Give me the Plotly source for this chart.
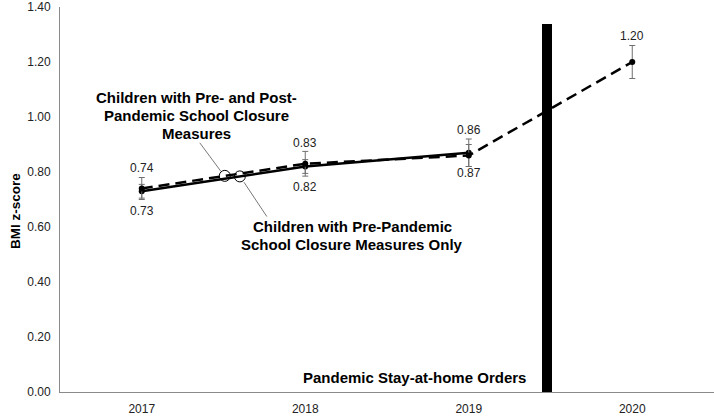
import plotly.graph_objects as go

# data
years = ["2017", "2018", "2019", "2020"]
pre_post = [0.74, 0.83, 0.86, 1.20]          # dashed series
pre_post_err = [0.04, 0.045, 0.04, 0.06]
pre_only = [0.73, 0.82, 0.87]                # solid series
pre_only_err = [0.025, 0.025, 0.05]
y_ticks = [0.0, 0.2, 0.4, 0.6, 0.8, 1.0, 1.2, 1.4]

# value labels: (year index, text, above/below)
value_labels = [
    (0, "0.74", "above"), (0, "0.73", "below"),
    (1, "0.83", "above"), (1, "0.82", "below"),
    (2, "0.86", "above"), (2, "0.87", "below"),
    (3, "1.20", "above"),
]

callout_pre_post = ["Children with Pre- and Post-", "Pandemic School Closure", "Measures"]
callout_pre_only = ["Children with Pre-Pandemic", "School Closure Measures Only"]
order_label = "Pandemic Stay-at-home Orders"

order_x = 2.48      # between 2019 and 2020
order_height = 1.34

FONT = "Liberation Sans, Arial, sans-serif"
xs = list(range(len(years)))

fig = go.Figure()

# stay-at-home marker bar
fig.add_trace(go.Bar(
    x=[order_x], y=[order_height], width=0.062,
    marker=dict(color="black", line_width=0),
    hoverinfo="skip", showlegend=False,
))

fig.add_trace(go.Scatter(
    x=xs[:len(pre_only)], y=pre_only, mode="lines+markers",
    line=dict(color="black", width=2.5),
    marker=dict(color="black", size=6),
    error_y=dict(type="data", array=pre_only_err, color="#6f6f6f", thickness=1, width=3),
    showlegend=False,
))
fig.add_trace(go.Scatter(
    x=xs, y=pre_post, mode="lines+markers",
    line=dict(color="black", width=2.5, dash="11px,6px"),
    marker=dict(color="black", size=6),
    error_y=dict(type="data", array=pre_post_err, color="#6f6f6f", thickness=1, width=3),
    showlegend=False,
))

# callout circles on the lines
fig.add_trace(go.Scatter(
    x=[0.508, 0.60], y=[0.786, 0.784], mode="markers",
    marker=dict(symbol="circle-open", size=11, color="black", line_width=1),
    hoverinfo="skip", showlegend=False,
))

annotations = []
for i, txt, pos in value_labels:
    y = pre_post[i] if pos == "above" else pre_only[i]
    shift = {"above": 21, "below": -20}[pos]
    if i >= 2 and pos == "above":
        shift = 26
    annotations.append(dict(
        x=i, y=y, text=txt, showarrow=False, yshift=shift,
        font=dict(size=12, color="#222", family=FONT),
    ))

bold = dict(size=15, color="black", family=FONT)
# callout text, one annotation per line to keep tight line spacing
for k, line in enumerate(callout_pre_post):
    annotations.append(dict(x=0.337, y=1.070, yshift=-18 * k, text=f"<b>{line}</b>",
                            showarrow=False, font=bold))
for k, line in enumerate(callout_pre_only):
    annotations.append(dict(x=1.286, y=0.6025, yshift=-18 * k, text=f"<b>{line}</b>",
                            showarrow=False, font=bold))
annotations.append(dict(x=order_x - 0.115, y=0.0525, text=f"<b>{order_label}</b>", xanchor="right",
                        showarrow=False, font=bold))

# y axis title
annotations.append(dict(xref="paper", yref="paper", x=-0.069, y=0.47, text="<b>BMI z-score</b>",
                        textangle=-90, showarrow=False, xanchor="center", yanchor="middle",
                        font=dict(size=13.5, color="black", family=FONT)))

shapes = [
    dict(type="line", x0=0.355, y0=0.906, x1=0.484, y1=0.8025, line=dict(color="#555", width=0.8)),
    dict(type="line", x0=0.625, y0=0.763, x1=0.765, y1=0.638, line=dict(color="#555", width=0.8)),
]

fig.update_layout(
    width=714, height=416,
    margin=dict(l=60, r=0, t=6, b=18),
    paper_bgcolor="white", plot_bgcolor="white",
    font=dict(family=FONT, size=12, color="#222"),
    annotations=annotations, shapes=shapes,
    xaxis=dict(
        range=[-0.5, 3.5], tickvals=xs, ticktext=years,
        showgrid=False, zeroline=False, showline=True, linecolor="#8a8a8a", linewidth=1,
        ticks="outside", ticklen=6, tickcolor="rgba(0,0,0,0)",
    ),
    yaxis=dict(
        range=[0, 1.4], tickvals=y_ticks, tickformat=".2f", ticklabeloverflow="allow",
        showgrid=False, zeroline=False, showline=True, linecolor="#8a8a8a", linewidth=1,
        ticks="outside", ticklen=6, tickcolor="rgba(0,0,0,0)",
    ),
    bargap=0,
)

fig.write_html("out.html", config={"displayModeBar": False},
               post_script="document.body.style.margin='0';")
